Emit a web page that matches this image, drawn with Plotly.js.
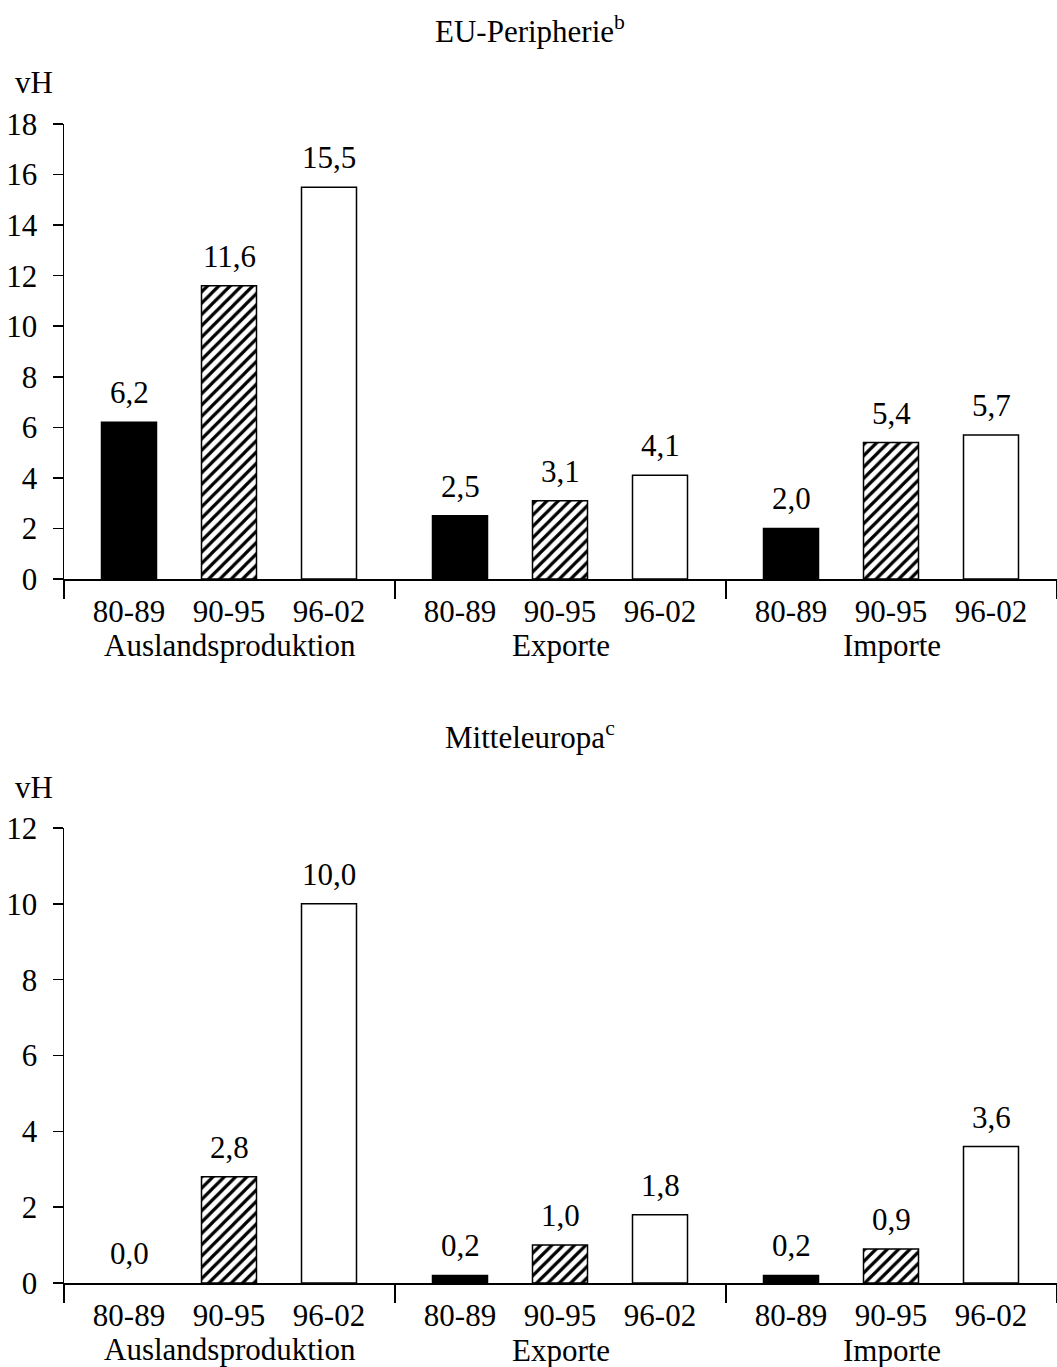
<!DOCTYPE html>
<html>
<head>
<meta charset="utf-8">
<script src="https://cdn.plot.ly/plotly-3.0.1.min.js"></script>
<style>
  html, body { margin: 0; padding: 0; background: #fff; }
  #chart { width: 1057px; height: 1367px; }
</style>
</head>
<body>
<div id="chart"></div>
<script>
// ---- data ----
const groups = ['Auslandsproduktion', 'Exporte', 'Importe'];
const periods = ['80-89', '90-95', '96-02'];
// EU-Peripherie (vH)
const eu8089 = [6.2, 2.5, 2.0];
const eu9095 = [11.6, 3.1, 5.4];
const eu9602 = [15.5, 4.1, 5.7];
// Mitteleuropa (vH)
const me8089 = [0.0, 0.2, 0.2];
const me9095 = [2.8, 1.0, 0.9];
const me9602 = [10.0, 1.8, 3.6];
const yTicksTop = [0, 2, 4, 6, 8, 10, 12, 14, 16, 18];
const yTicksBottom = [0, 2, 4, 6, 8, 10, 12];

// ---- layout helpers ----
const FONT = 'Liberation Serif, Times New Roman, serif';
const FS = 31;
const GW = 3.31;     // group width in axis units
const OFF = 0.65;    // offset of first bar in group
const STEP = 1.0;    // distance between bars
const BW = 0.55;     // bar width
function xpos(gi, pi) { return gi * GW + OFF + pi * STEP; }

const styles = [
  { color: '#000000', pattern: { shape: '' } },
  { color: '#ffffff', pattern: { shape: '/', fgcolor: '#000000', bgcolor: '#ffffff', size: 8, solidity: 0.4 } },
  { color: '#ffffff', pattern: { shape: '' } }
];

function makeTraces(seriesList, xa, ya) {
  return seriesList.map((vals, pi) => ({
    type: 'bar',
    x: groups.map((g, gi) => xpos(gi, pi)),
    y: vals,
    width: BW,
    xaxis: xa, yaxis: ya,
    marker: {
      color: styles[pi].color,
      pattern: styles[pi].pattern,
      line: { color: '#000000', width: vals.map(v => v === 0 ? 0 : 1.5) }
    },
    hoverinfo: 'skip',
    showlegend: false
  }));
}

const data = [
  ...makeTraces([eu8089, eu9095, eu9602], 'x', 'y'),
  ...makeTraces([me8089, me9095, me9602], 'x2', 'y2')
];

// tick positions for period labels
const tickX = [], tickT = [];
groups.forEach((g, gi) => periods.forEach((p, pi) => { tickX.push(xpos(gi, pi)); tickT.push(p); }));
const bounds = groups.map((g, gi) => gi * GW).concat([groups.length * GW]);

function xaxisDef(anchor) {
  return {
    anchor: anchor,
    domain: [0, 1],
    range: [0, groups.length * GW],
    showgrid: false, zeroline: false,
    showline: true, linecolor: '#000', linewidth: 1.5,
    tickmode: 'array', tickvals: tickX, ticktext: tickT,
    ticks: '', ticklabelstandoff: 4,
    tickfont: { family: FONT, size: FS, color: '#000' },
    minor: { tickmode: 'array', tickvals: bounds, ticks: 'outside', ticklen: 18, tickwidth: 1.5, tickcolor: '#000' },
    fixedrange: true
  };
}
function yaxisDef(anchor, domain, maxv, tv) {
  return {
    anchor: anchor,
    domain: domain,
    range: [0, maxv],
    showgrid: false, zeroline: false,
    showline: true, linecolor: '#000', linewidth: 1.5,
    tickmode: 'array', tickvals: tv,
    ticks: 'outside', ticklen: 10, tickwidth: 1.5, tickcolor: '#000',
    tickfont: { family: FONT, size: FS, color: '#000' },
    ticklabelstandoff: 9,
    fixedrange: true
  };
}

const H = 1367;
const annotations = [];
function valueLabels(seriesList, xa, ya) {
  seriesList.forEach((vals, pi) => vals.forEach((v, gi) => {
    annotations.push({
      xref: xa, yref: ya, x: xpos(gi, pi), y: v,
      text: v.toFixed(1).replace('.', ','),
      showarrow: false, xanchor: 'center', yanchor: 'bottom', yshift: 10,
      font: { family: FONT, size: FS, color: '#000' }
    });
  }));
}
valueLabels([eu8089, eu9095, eu9602], 'x', 'y');
valueLabels([me8089, me9095, me9602], 'x2', 'y2');

function groupLabels(xa, ya, shifts) {
  groups.forEach((g, gi) => {
    annotations.push({
      xref: xa, yref: ya, x: gi * GW + GW / 2, y: 0,
      text: g, showarrow: false, xanchor: 'center', yanchor: 'middle', yshift: shifts[gi],
      font: { family: FONT, size: FS, color: '#000' }
    });
  });
}
groupLabels('x', 'y', [-66, -66, -66]);
groupLabels('x2', 'y2', [-66, -67, -67]);

function panelTitle(text, ya, ymax, shift) {
  annotations.push({
    xref: 'paper', yref: ya, x: 0.469, y: ymax, text: text, showarrow: false,
    xanchor: 'center', yanchor: 'middle', yshift: shift,
    font: { family: FONT, size: FS, color: '#000' }
  });
  annotations.push({
    xref: 'paper', yref: ya, x: 0, y: ymax, text: 'vH', showarrow: false,
    xanchor: 'center', yanchor: 'middle', xshift: -30, yshift: 41,
    font: { family: FONT, size: FS, color: '#000' }
  });
}
panelTitle('EU-Peripherie<sup>b</sup>', 'y', 18, 94);
panelTitle('Mitteleuropa<sup>c</sup>', 'y2', 12, 93);

const layout = {
  width: 1057, height: H,
  margin: { l: 64, r: 0, t: 0, b: 0, pad: 0 },
  paper_bgcolor: '#fff', plot_bgcolor: '#fff',
  separators: ',.',
  showlegend: false,
  xaxis: xaxisDef('y'),
  yaxis: yaxisDef('x', [(H - 579) / H, (H - 124) / H], 18, yTicksTop),
  xaxis2: xaxisDef('y2'),
  yaxis2: yaxisDef('x2', [(H - 1283) / H, (H - 828) / H], 12, yTicksBottom),
  annotations: annotations,
  font: { family: FONT, size: FS, color: '#000' }
};

Plotly.newPlot('chart', data, layout, { displayModeBar: false, staticPlot: true });
</script>
</body>
</html>
